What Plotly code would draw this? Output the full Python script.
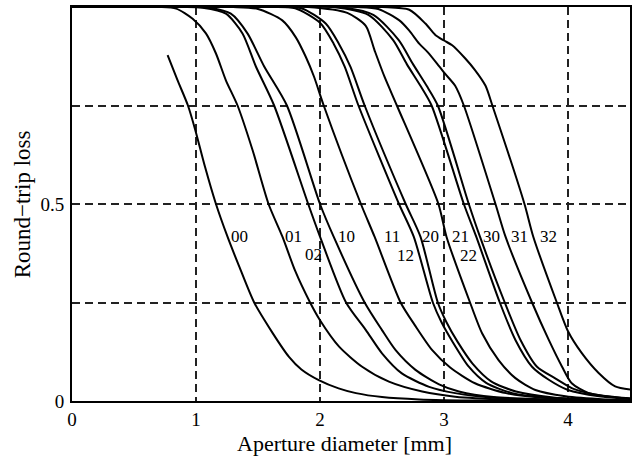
import plotly.graph_objects as go

# ---- data ----
x_00 = [0.771, 0.85, 0.935, 0.994, 1.072, 1.161, 1.254, 1.349, 1.469, 1.617, 1.75, 1.85, 1.99, 2.15, 2.29, 2.5, 2.8, 3.3, 4.5]
y_00 = [0.878, 0.815, 0.75, 0.688, 0.595, 0.5, 0.417, 0.341, 0.25, 0.173, 0.112, 0.08, 0.053, 0.032, 0.020, 0.010, 0.004, 0.001, 0.0]

x_01 = [0.0, 0.70, 0.84, 0.973, 1.08, 1.161, 1.241, 1.335, 1.456, 1.585, 1.697, 1.80, 1.92, 2.0, 2.154, 2.34, 2.556, 2.824, 3.09, 3.5, 4.5]
y_01 = [1.0, 1.0, 0.996, 0.970, 0.933, 0.882, 0.814, 0.75, 0.637, 0.5, 0.417, 0.33, 0.25, 0.205, 0.138, 0.087, 0.049, 0.024, 0.011, 0.004, 0.0]

x_02 = [0.0, 0.9, 1.053, 1.241, 1.375, 1.483, 1.63, 1.905, 2.0, 2.21, 2.37, 2.50, 2.66, 2.88, 3.09, 3.4, 4.5]
y_02 = [1.0, 1.0, 0.998, 0.983, 0.933, 0.849, 0.75, 0.5, 0.417, 0.25, 0.18, 0.121, 0.07, 0.036, 0.02, 0.008, 0.0]

x_10 = [0.0, 0.95, 1.107, 1.281, 1.415, 1.55, 1.733, 2.0, 2.11, 2.36, 2.50, 2.61, 2.77, 2.96, 3.12, 3.4, 4.5]
y_10 = [1.0, 1.0, 0.998, 0.983, 0.933, 0.849, 0.75, 0.5, 0.417, 0.25, 0.18, 0.129, 0.079, 0.042, 0.024, 0.01, 0.0]

x_11 = [0.0, 1.3, 1.50, 1.696, 1.805, 1.886, 1.952, 2.03, 2.33, 2.44, 2.65, 2.77, 2.905, 3.05, 3.25, 3.5, 3.8, 4.5]
y_11 = [1.0, 1.0, 0.995, 0.966, 0.923, 0.873, 0.823, 0.75, 0.5, 0.417, 0.25, 0.19, 0.129, 0.085, 0.045, 0.02, 0.008, 0.0]

x_12 = [0.0, 1.55, 1.80, 2.00, 2.11, 2.20, 2.31, 2.637, 2.756, 2.91, 2.98, 3.07, 3.20, 3.34, 3.55, 3.85, 4.5]
y_12 = [1.0, 1.0, 0.997, 0.96, 0.907, 0.848, 0.75, 0.5, 0.417, 0.25, 0.2, 0.15, 0.087, 0.046, 0.02, 0.008, 0.0]

x_20 = [0.0, 1.6, 1.85, 2.046, 2.152, 2.246, 2.36, 2.691, 2.81, 2.95, 3.02, 3.11, 3.23, 3.38, 3.58, 3.88, 4.5]
y_20 = [1.0, 1.0, 0.997, 0.958, 0.907, 0.848, 0.75, 0.5, 0.417, 0.25, 0.2, 0.15, 0.095, 0.05, 0.024, 0.009, 0.0]

x_21 = [0.0, 1.9, 2.22, 2.369, 2.44, 2.52, 2.62, 2.955, 3.02, 3.21, 3.307, 3.44, 3.576, 3.737, 3.98, 4.3, 4.5]
y_21 = [1.0, 1.0, 0.985, 0.952, 0.89, 0.823, 0.75, 0.5, 0.417, 0.25, 0.172, 0.104, 0.058, 0.028, 0.012, 0.004, 0.002]

x_22 = [0.0, 2.1, 2.39, 2.59, 2.70, 2.81, 2.90, 3.16, 3.26, 3.45, 3.576, 3.71, 3.845, 4.0, 4.25, 4.5]
y_22 = [1.0, 1.0, 0.98, 0.916, 0.855, 0.80, 0.75, 0.5, 0.417, 0.25, 0.155, 0.087, 0.054, 0.028, 0.012, 0.005]

x_30 = [0.0, 2.15, 2.43, 2.635, 2.75, 2.86, 2.95, 3.20, 3.29, 3.49, 3.617, 3.75, 3.9, 4.05, 4.3, 4.5]
y_30 = [1.0, 1.0, 0.98, 0.916, 0.855, 0.80, 0.75, 0.5, 0.417, 0.25, 0.155, 0.087, 0.057, 0.03, 0.012, 0.006]

x_31 = [0.0, 2.3, 2.47, 2.64, 2.72, 2.80, 2.87, 2.96, 3.01, 3.09, 3.16, 3.415, 3.496, 3.71, 3.845, 3.952, 4.03, 4.167, 4.5]
y_31 = [1.0, 1.0, 0.995, 0.966, 0.94, 0.907, 0.885, 0.85, 0.83, 0.80, 0.75, 0.5, 0.417, 0.25, 0.155, 0.087, 0.045, 0.020, 0.007]

x_32 = [0.0, 2.5, 2.72, 2.85, 2.93, 3.0, 3.066, 3.17, 3.25, 3.335, 3.39, 3.649, 3.72, 3.91, 4.0, 4.11, 4.247, 4.38, 4.5]
y_32 = [1.0, 1.0, 0.993, 0.958, 0.929, 0.915, 0.903, 0.87, 0.84, 0.80, 0.75, 0.5, 0.417, 0.25, 0.177, 0.122, 0.071, 0.037, 0.029]

mode_names = ["00", "01", "02", "10", "11", "12", "20", "21", "22", "30", "31", "32"]
label_x = [1.349, 1.789, 1.946, 2.212, 2.577, 2.691, 2.895, 3.134, 3.20, 3.384, 3.606, 3.841]
label_y = [0.417, 0.417, 0.371, 0.417, 0.417, 0.369, 0.417, 0.417, 0.369, 0.417, 0.417, 0.417]

x_ticks = [0, 1, 2, 3, 4]
y_ticks = [0, 0.25, 0.5, 0.75, 1]
y_tick_text = ["0", "", "0.5", "", "1"]

curves = [
    (x_00, y_00), (x_01, y_01), (x_02, y_02), (x_10, y_10), (x_11, y_11), (x_12, y_12),
    (x_20, y_20), (x_21, y_21), (x_22, y_22), (x_30, y_30), (x_31, y_31), (x_32, y_32),
]

FONT = "Liberation Serif, Times New Roman, serif"

fig = go.Figure()
for name, (xs, ys) in zip(mode_names, curves):
    fig.add_trace(go.Scatter(
        x=xs, y=ys, mode="lines", name=name,
        line=dict(color="black", width=2, shape="spline", smoothing=0.7),
        hoverinfo="skip", showlegend=False,
    ))

for name, lx, ly in zip(mode_names, label_x, label_y):
    fig.add_annotation(x=lx, y=ly, xref="x", yref="y", text=name, showarrow=False,
                       font=dict(family=FONT, size=17, color="black"),
                       xanchor="center", yanchor="middle")

# axis titles
fig.add_annotation(x=0.4875, y=-0.107, xref="paper", yref="paper",
                   text="Aperture diameter [mm]", showarrow=False,
                   font=dict(family=FONT, size=22, color="black"),
                   xanchor="center", yanchor="middle")
fig.add_annotation(x=-0.089, y=0.50, xref="paper", yref="paper",
                   text="Round\u2212trip loss", showarrow=False, textangle=-90,
                   font=dict(family=FONT, size=23, color="black"),
                   xanchor="center", yanchor="middle")

axis_common = dict(
    showline=True, linecolor="black", linewidth=2, mirror=True,
    showgrid=True, gridcolor="#222222", gridwidth=1.5, griddash="8px,5px",
    zeroline=False, ticks="",
    tickfont=dict(family=FONT, size=19, color="black"),
)

fig.update_xaxes(range=[0, 4.5], tickvals=x_ticks, ticklabelstandoff=0, **axis_common)
fig.update_yaxes(range=[0, 1], tickvals=y_ticks, ticktext=y_tick_text, ticklabelstandoff=2, **axis_common)

fig.update_layout(
    width=637, height=461,
    margin=dict(l=72, r=5, t=7, b=60),
    paper_bgcolor="white", plot_bgcolor="white",
    font=dict(family=FONT, color="black"),
)

fig.write_html("out.html")
